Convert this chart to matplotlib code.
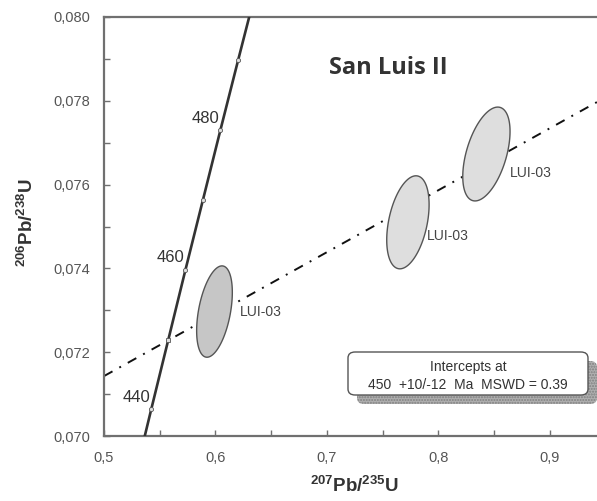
import numpy as np
import matplotlib
matplotlib.use("Agg")
import matplotlib.pyplot as plt
from matplotlib.patches import FancyBboxPatch

plt.rcParams['font.family'] = ['Liberation Sans', 'DejaVu Sans']
plt.rcParams['mathtext.fontset'] = 'custom'
plt.rcParams['mathtext.rm'] = 'Liberation Sans'
plt.rcParams['mathtext.bf'] = 'Liberation Sans:bold'

# Concordia ages (Ma) and their 207Pb/235U, 206Pb/238U ratios
concordia_age = [430, 440, 450, 460, 470, 480, 490, 500]
concordia_x = [0.5273, 0.5424, 0.5577, 0.5731, 0.5887, 0.6044, 0.6204, 0.6365]
concordia_y = [0.06898, 0.07064, 0.07230, 0.07397, 0.07563, 0.07730, 0.07898, 0.08065]
tick_ages = [440, 450, 460, 470, 480, 490]
labelled_ages = [440, 460, 480]

# Discordia (regression through the analyses)
discordia_x = [0.500, 0.9422]
discordia_y = [0.07143, 0.07797]

# Analyses: centre, 2-sigma half-widths, error correlation
sample_names = ["LUI-03", "LUI-03", "LUI-03"]
pb207_u235 = [0.5991, 0.7726, 0.8430]
pb206_u238 = [0.07297, 0.07510, 0.07673]
err_x = [0.0160, 0.0190, 0.0212]
err_y = [0.00109, 0.00111, 0.00112]
rho = [0.42, 0.38, 0.48]
fill_colors = ["#c6c6c6", "#dedede", "#dedede"]

x_ticks = [0.5, 0.6, 0.7, 0.8, 0.9]
y_ticks = [0.070, 0.072, 0.074, 0.076, 0.078, 0.080]

title = "San Luis II"
result_lines = ["Intercepts at", "450  +10/-12  Ma  MSWD = 0.39"]

W, H = 597, 501
fig = plt.figure(figsize=(W / 100, H / 100), dpi=100)
ax = fig.add_axes([104 / W, 1 - 436 / H, 1 - 104 / W, (436 - 17) / H])
ax.set_xlim(0.5, 0.9422)
ax.set_ylim(0.070, 0.080)

spine_col = "#707070"
for s in ["left", "bottom", "top"]:
    ax.spines[s].set_color(spine_col)
    ax.spines[s].set_linewidth(1.6)
ax.spines["right"].set_visible(False)

ax.set_xticks(x_ticks)
ax.set_xticklabels([f"{v:.1f}".replace(".", ",") for v in x_ticks])
ax.set_yticks(y_ticks)
ax.set_yticklabels([f"{v:.3f}".replace(".", ",") for v in y_ticks])
ax.set_xticks([0.55, 0.65, 0.75, 0.85], minor=True)
ax.set_yticks([0.071, 0.073, 0.075, 0.077, 0.079], minor=True)
ax.tick_params(which="both", direction="in", length=4, width=1, color=spine_col,
               labelsize=10.5, labelcolor="#555555")
ax.tick_params(axis="x", which="major", pad=11)
ax.tick_params(axis="y", which="major", pad=10)

# Discordia
ax.plot(discordia_x, discordia_y, color="#111111", lw=1.4,
        linestyle=(0, (5, 4, 1, 4)), zorder=2)

# Error ellipses
t = np.linspace(0, 2 * np.pi, 200)
for cx, cy, sx, sy, r, fc in zip(pb207_u235, pb206_u238, err_x, err_y, rho, fill_colors):
    ex = cx + sx * np.cos(t)
    ey = cy + sy * (r * np.cos(t) + np.sqrt(1 - r ** 2) * np.sin(t))
    ax.fill(ex, ey, facecolor=fc, edgecolor="#555555", lw=1.0, zorder=3)

label_offsets = [(25, 0), (19, -14), (23, -19)]
for cx, cy, name, (dx, dy) in zip(pb207_u235, pb206_u238, sample_names, label_offsets):
    ax.annotate(name, (cx, cy), xytext=(dx * 0.72, dy * 0.72), textcoords="offset points",
                ha="left", va="center", fontsize=10, color="#444444", zorder=5)

# Concordia curve with age ticks
ax.plot(concordia_x, concordia_y, color="#333333", lw=1.9, zorder=4,
        solid_capstyle="butt")
for age, x, y in zip(concordia_age, concordia_x, concordia_y):
    if age in tick_ages:
        ax.plot([x], [y], marker="o" if age != 450 else "s", ms=3, mfc="#dddddd",
                mec="#555555", mew=0.6, zorder=5)
    if age in labelled_ages:
        ax.annotate(str(age), (x, y), xytext=(-1, 8.6), textcoords="offset points",
                    ha="right", va="center", fontsize=12, color="#333333", zorder=5)

# Title
fig.text(388 / W, 1 - 68 / H, title, ha="center", va="center", fontsize=17,
         fontweight="bold", family=["Open Sans", "DejaVu Sans"], color="#333333")

# Axis labels
fig.text(354 / W, 1 - 486 / H, r"$\mathbf{^{207}Pb/^{235}U}$", ha="center", va="center",
         fontsize=13.5, color="#333333")
fig.text(27 / W, 1 - 223 / H, r"$\mathbf{^{206}Pb/^{238}U}$", ha="center", va="center",
         fontsize=13.5, color="#333333", rotation=90)

# Result box with drop shadow
bx0, bx1, by0, by1 = 348, 588, 352, 395
sh = 9
shadow = FancyBboxPatch(((bx0 + sh) / W, 1 - (by1 + sh) / H), (bx1 - bx0) / W, (by1 - by0) / H,
                        boxstyle="round,pad=0,rounding_size=0.012", transform=fig.transFigure,
                        facecolor="#b0b0b0", edgecolor="#808080", lw=0, hatch="......",
                        zorder=6)
fig.add_artist(shadow)
box = FancyBboxPatch((bx0 / W, 1 - by1 / H), (bx1 - bx0) / W, (by1 - by0) / H,
                     boxstyle="round,pad=0,rounding_size=0.012", transform=fig.transFigure,
                     facecolor="white", edgecolor="#555555", lw=1.0, zorder=7)
fig.add_artist(box)
fig.text(468 / W, 1 - 367 / H, result_lines[0], ha="center", va="center", fontsize=10,
         color="#333333", zorder=8)
fig.text(468 / W, 1 - 385 / H, result_lines[1], ha="center", va="center", fontsize=10,
         color="#333333", zorder=8)

fig.savefig("out.png", dpi=100)
